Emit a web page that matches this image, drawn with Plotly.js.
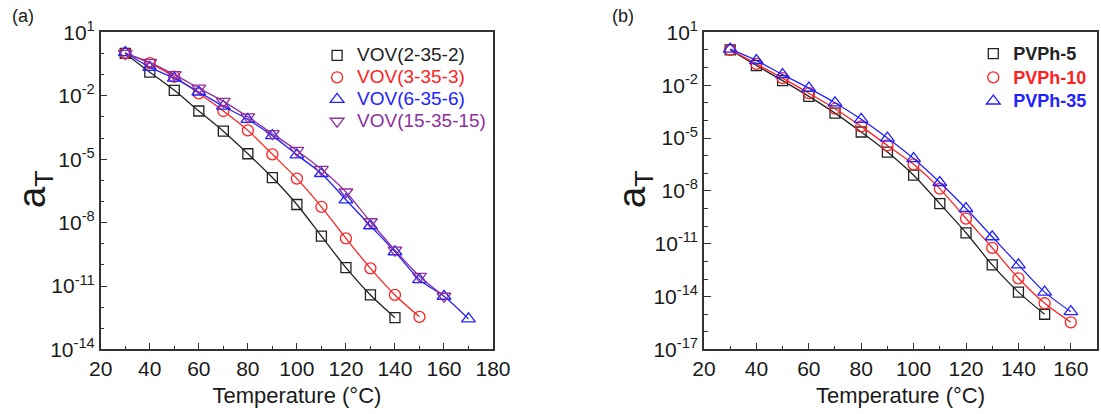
<!DOCTYPE html>
<html>
<head>
<meta charset="utf-8">
<script src="https://cdn.plot.ly/plotly-3.0.1.min.js"></script>
<style>html,body{margin:0;padding:0;background:#fff;}#chart{width:1101px;height:414px;}</style>
</head>
<body>
<div id="chart"></div>
<script>
// ---- Panel (a): VOV samples ----
const tempA_2_35_2 = [30, 40, 50, 60, 70, 80, 90, 100, 110, 120, 130, 140];
const aT_2_35_2 = [1.0, 1.3e-1, 1.8e-2, 1.9e-3, 2.1e-4, 1.8e-5, 1.35e-6, 7.2e-8, 2.3e-9, 7.4e-11, 3.8e-12, 3.2e-13];

const tempA_3_35_3 = [30, 40, 50, 60, 70, 80, 90, 100, 110, 120, 130, 140, 150];
const aT_3_35_3 = [1.0, 3.5e-1, 7.9e-2, 1.3e-2, 1.9e-3, 2.3e-4, 1.7e-5, 1.2e-6, 5.6e-8, 1.8e-9, 6.9e-11, 3.8e-12, 3.5e-13];

const tempA_6_35_6 = [30, 40, 50, 60, 70, 80, 90, 100, 110, 120, 130, 140, 150, 160, 170];
const aT_6_35_6 = [1.1, 2.2e-1, 6.8e-2, 1.5e-2, 3.2e-3, 7.6e-4, 1.3e-4, 1.6e-5, 2.1e-6, 1.2e-7, 7.1e-9, 4.2e-10, 2.0e-11, 3.3e-12, 2.8e-13];

const tempA_15_35_15 = [30, 40, 50, 60, 70, 80, 90, 100, 110, 120, 130, 140, 150, 160];
const aT_15_35_15 = [1.0, 3.8e-1, 1.0e-1, 2.3e-2, 5.4e-3, 1.0e-3, 1.6e-4, 2.6e-5, 3.3e-6, 2.8e-7, 1.1e-8, 5.0e-10, 2.9e-11, 3.3e-12];

// ---- Panel (b): PVPh samples ----
const tempB_5 = [30, 40, 50, 60, 70, 80, 90, 100, 110, 120, 130, 140, 150];
const aT_PVPh5 = [1.0, 1.3e-1, 1.8e-2, 2.3e-3, 2.6e-4, 2.2e-5, 1.6e-6, 7.8e-8, 1.9e-9, 4.2e-11, 6.3e-13, 1.8e-14, 1.0e-15];

const tempB_10 = [30, 40, 50, 60, 70, 80, 90, 100, 110, 120, 130, 140, 150, 160];
const aT_PVPh10 = [1.0, 1.6e-1, 2.5e-2, 3.5e-3, 4.6e-4, 4.6e-5, 3.8e-6, 3.2e-7, 1.35e-8, 2.7e-10, 5.9e-12, 1.1e-13, 4.2e-15, 3.5e-16];

const tempB_35 = [30, 40, 50, 60, 70, 80, 90, 100, 110, 120, 130, 140, 150, 160];
const aT_PVPh35 = [1.1, 2.5e-1, 4.0e-2, 6.8e-3, 1.0e-3, 1.15e-4, 1.0e-5, 6.8e-7, 3.0e-8, 1.0e-9, 2.5e-11, 6.3e-13, 1.8e-14, 1.4e-15];

// ---- Legend names ----
const namesA = ['VOV(2-35-2)', 'VOV(3-35-3)', 'VOV(6-35-6)', 'VOV(15-35-15)'];
const namesB = ['PVPh-5', 'PVPh-10', 'PVPh-35'];

// ---- Tick labels ----
const xTickValsA = [20, 40, 60, 80, 100, 120, 140, 160, 180];
const xTickValsB = [20, 40, 60, 80, 100, 120, 140, 160];
const yTickValsA = [1e1, 1e-2, 1e-5, 1e-8, 1e-11, 1e-14];
const yTickTextA = ['10<sup>1</sup>', '10<sup>-2</sup>', '10<sup>-5</sup>', '10<sup>-8</sup>', '10<sup>-11</sup>', '10<sup>-14</sup>'];
const yTickValsB = [1e1, 1e-2, 1e-5, 1e-8, 1e-11, 1e-14, 1e-17];
const yTickTextB = ['10<sup>1</sup>', '10<sup>-2</sup>', '10<sup>-5</sup>', '10<sup>-8</sup>', '10<sup>-11</sup>', '10<sup>-14</sup>', '10<sup>-17</sup>'];
const yMinorA = [1e0, 1e-1, 1e-3, 1e-4, 1e-6, 1e-7, 1e-9, 1e-10, 1e-12, 1e-13];
const yMinorB = [1e0, 1e-1, 1e-3, 1e-4, 1e-6, 1e-7, 1e-9, 1e-10, 1e-12, 1e-13, 1e-15, 1e-16];

const FONT = 'Arial, "Liberation Sans", sans-serif';
const BLACK = '#222222', RED = '#ff2222', BLUE = '#2222ff', PURPLE = '#8e2f9e';

function series(x, y, color, symbol, name, xa, ya, legend, bold, msize) {
  const label = bold
    ? '<b><span style="color:' + color + ';font-size:18px">' + name + '</span></b>'
    : '<span style="color:' + color + ';font-size:19px">' + name + '</span>';
  return [
    {x: x, y: y, xaxis: xa, yaxis: ya, type: 'scatter', mode: 'lines',
     line: {color: color, width: 1.3, shape: 'spline', smoothing: 0.8},
     showlegend: false, hoverinfo: 'skip'},
    {x: x, y: y, xaxis: xa, yaxis: ya, type: 'scatter', mode: 'markers',
     marker: {symbol: symbol, size: msize, color: color, line: {color: color, width: 1.3}},
     name: label, legend: legend}
  ];
}

const data = [].concat(
  series(tempA_2_35_2, aT_2_35_2, BLACK, 'square-open', namesA[0], 'x', 'y', 'legend', false, 10),
  series(tempA_3_35_3, aT_3_35_3, RED, 'circle-open', namesA[1], 'x', 'y', 'legend', false, 11),
  series(tempA_6_35_6, aT_6_35_6, BLUE, 'triangle-up-open', namesA[2], 'x', 'y', 'legend', false, 12),
  series(tempA_15_35_15, aT_15_35_15, PURPLE, 'triangle-down-open', namesA[3], 'x', 'y', 'legend', false, 12),
  series(tempB_5, aT_PVPh5, BLACK, 'square-open', namesB[0], 'x2', 'y2', 'legend2', true, 10),
  series(tempB_10, aT_PVPh10, RED, 'circle-open', namesB[1], 'x2', 'y2', 'legend2', true, 11),
  series(tempB_35, aT_PVPh35, BLUE, 'triangle-up-open', namesB[2], 'x2', 'y2', 'legend2', true, 12)
);

const axisCommon = {
  showline: true, mirror: true, linecolor: '#333', linewidth: 1.5,
  showgrid: false, zeroline: false,
  ticks: 'inside', ticklen: 7, tickwidth: 1.3, tickcolor: '#333',
  tickfont: {family: FONT, size: 21, color: '#1a1a1a'}
};
const minorX = {tickmode: 'linear', dtick: 10, tick0: 20, ticks: 'inside', ticklen: 4, tickwidth: 1.3, tickcolor: '#333'};

const layout = {
  width: 1101, height: 414,
  margin: {l: 0, r: 0, t: 0, b: 0},
  paper_bgcolor: '#fff', plot_bgcolor: '#fff',
  font: {family: FONT, size: 16, color: '#1a1a1a'},
  xaxis: Object.assign({}, axisCommon, {
    domain: [0.0915, 0.4478], range: [20, 180],
    tickmode: 'array', tickvals: xTickValsA, ticktext: xTickValsA.map(String),
    minor: minorX,
    title: {text: 'Temperature (°C)', font: {family: FONT, size: 22, color: '#1a1a1a'}, standoff: 8},
    anchor: 'y'
  }),
  yaxis: Object.assign({}, axisCommon, {
    domain: [0.1558, 0.922], type: 'log', range: [-14, 1],
    tickmode: 'array', tickvals: yTickValsA, ticktext: yTickTextA,
    minor: {tickmode: 'array', tickvals: yMinorA, ticks: 'inside', ticklen: 4, tickwidth: 1.3, tickcolor: '#333'},
    anchor: 'x'
  }),
  xaxis2: Object.assign({}, axisCommon, {
    domain: [0.6394, 0.9964], range: [20, 170],
    tickmode: 'array', tickvals: xTickValsB, ticktext: xTickValsB.map(String),
    minor: minorX,
    title: {text: 'Temperature (°C)', font: {family: FONT, size: 22, color: '#1a1a1a'}, standoff: 8},
    anchor: 'y2'
  }),
  yaxis2: Object.assign({}, axisCommon, {
    domain: [0.1558, 0.922], type: 'log', range: [-17, 1],
    tickmode: 'array', tickvals: yTickValsB, ticktext: yTickTextB,
    minor: {tickmode: 'array', tickvals: yMinorB, ticks: 'inside', ticklen: 4, tickwidth: 1.3, tickcolor: '#333'},
    anchor: 'x2'
  }),
  legend: {
    x: 0.288, y: 0.905, xanchor: 'left', yanchor: 'top',
    bgcolor: 'rgba(0,0,0,0)', borderwidth: 0,
    font: {family: FONT, size: 14.6, color: '#1a1a1a'},
    itemwidth: 30, tracegroupgap: 0
  },
  legend2: {
    x: 0.884, y: 0.911, xanchor: 'left', yanchor: 'top',
    bgcolor: 'rgba(0,0,0,0)', borderwidth: 0,
    font: {family: FONT, size: 15.9, color: '#1a1a1a'},
    itemwidth: 30, tracegroupgap: 0
  },
  annotations: [
    {text: '(a)', xref: 'paper', yref: 'paper', x: 10 / 1101, y: 1 - 16 / 414, xanchor: 'left', yanchor: 'middle', showarrow: false, font: {family: FONT, size: 18, color: '#1a1a1a'}},
    {text: '(b)', xref: 'paper', yref: 'paper', x: 610 / 1101, y: 1 - 16 / 414, xanchor: 'left', yanchor: 'middle', showarrow: false, font: {family: FONT, size: 18, color: '#1a1a1a'}},
    {text: 'a<sub>T</sub>', xref: 'paper', yref: 'paper', x: 35 / 1101, y: 1 - 190 / 414, xanchor: 'center', yanchor: 'middle', textangle: -90, showarrow: false, font: {family: FONT, size: 38, color: '#1a1a1a'}},
    {text: 'a<sub>T</sub>', xref: 'paper', yref: 'paper', x: 635 / 1101, y: 1 - 190 / 414, xanchor: 'center', yanchor: 'middle', textangle: -90, showarrow: false, font: {family: FONT, size: 38, color: '#1a1a1a'}}
  ]
};

Plotly.newPlot('chart', data, layout, {displayModeBar: false});
</script>
</body>
</html>
